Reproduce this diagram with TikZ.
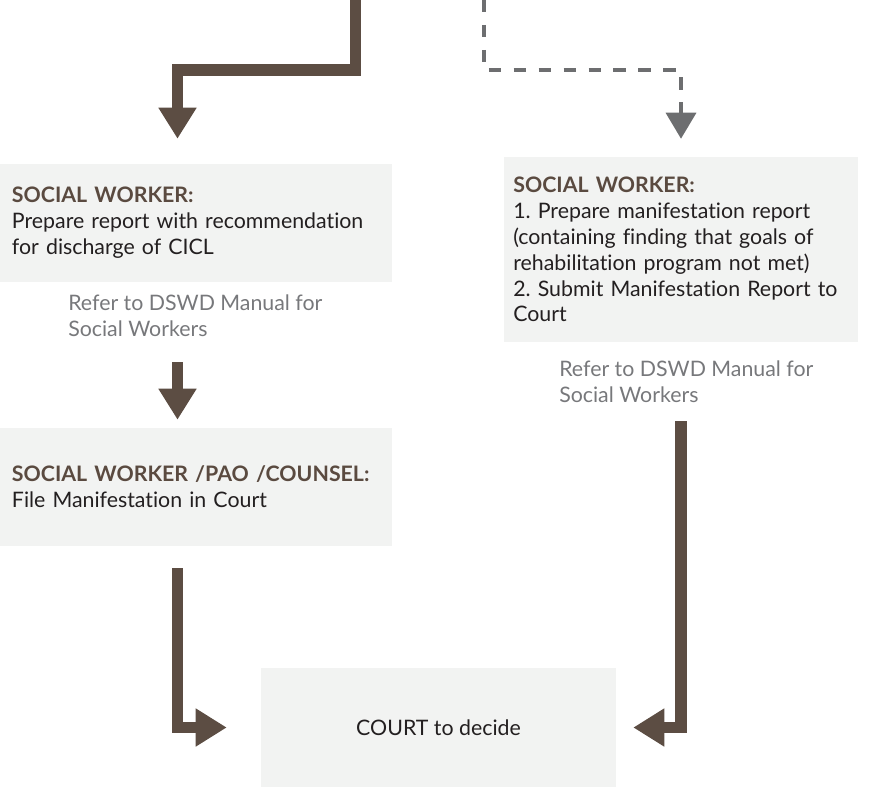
\documentclass[tikz,border=0pt]{standalone}
\usepackage{fontspec}
\setmainfont{Lato}[Ligatures=NoCommon]
\usetikzlibrary{arrows.meta}

\definecolor{brownarrow}{HTML}{5C4D43}
\definecolor{brownhead}{HTML}{5A4A40}
\definecolor{boxfill}{HTML}{F2F3F2}
\definecolor{notegray}{HTML}{77787B}
\definecolor{dashgray}{HTML}{6D6E70}
\definecolor{bodytext}{HTML}{231F20}

\newcommand{\role}[1]{{\bfseries\color{brownhead}#1}}
\frenchspacing

\begin{document}
\begin{tikzpicture}[x=0.75pt,y=-0.75pt,
    every node/.style={font=\fontsize{16}{19.4}\selectfont,text=bodytext},
    stagebox/.style={fill=boxfill,inner xsep=9pt,align=left,minimum width=294pt,text width=276pt},
    refnote/.style={text=notegray,align=left,inner sep=0pt,anchor=west},
    flow/.style={draw=brownarrow,line width=8.6pt,-{Triangle[width=27pt,length=23.25pt]}},
    dashflow/.style={draw=dashgray,line width=2.6pt,dash pattern=on 9.2pt off 9.5pt,-{Triangle[width=22.5pt,length=19.5pt]}}]
      \useasboundingbox (0,0) rectangle (870,789);

      % stages
      \node [stagebox,minimum height=88.5pt] (discharge) at (196,223)
        {\role{SOCIAL WORKER:}\\Prepare report with recommendation\\for discharge of CICL};
      \node [refnote] (note1) at (68,315.5) {Refer to DSWD Manual for\\Social Workers};

      \node [stagebox,minimum height=88.5pt] (file) at (196,487)
        {\role{SOCIAL WORKER /PAO /COUNSEL:}\\File Manifestation in Court};

      \node [stagebox,inner xsep=7pt,minimum width=265.5pt,text width=251.5pt,minimum height=138.75pt] (manif) at (681,249.5)
        {\role{SOCIAL WORKER:}\\1. Prepare manifestation report\\(containing finding that goals of\\rehabilitation program not met)\\2. Submit Manifestation Report to\\Court};
      \node [refnote] (note2) at (559,381.5) {Refer to DSWD Manual for\\Social Workers};

      \node [fill=boxfill,minimum width=266.25pt,minimum height=89.25pt] (court) at (438.5,727.5) {COURT to decide};

      % incoming lines
      \coordinate (in1) at (355.5,0);
      \coordinate (bend1) at (177.5,70);
      \coordinate (in2) at (484,0);
      \coordinate (bend2) at (681,70);

      \draw [flow,shorten >=18.75pt] (in1) |- (bend1) -- (bend1 |- discharge.north);
      \draw [dashflow,shorten >=13.5pt] (in2) |- (bend2) -- (manif.north);

      \draw [flow,shorten <=60pt,shorten >=6pt] (discharge.south -| bend1) -- (file.north -| bend1);
      \draw [flow,shorten <=16.5pt,shorten >=25.5pt] (file.south -| bend1) |- (court.west);
      \draw [flow,shorten <=59.25pt,shorten >=12.75pt] (manif.south) |- (court.east);

    \end{tikzpicture}
\end{document}
